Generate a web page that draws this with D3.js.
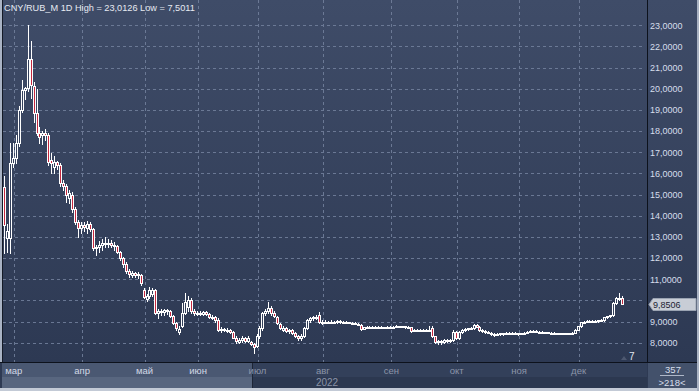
<!DOCTYPE html>
<html><head><meta charset="utf-8">
<script src="https://cdn.jsdelivr.net/npm/d3@7"></script>
<style>html,body{margin:0;padding:0;background:#2e3a54;overflow:hidden}svg{display:block}</style>
</head><body><svg id="c" width="699" height="391"></svg>
<script>
const title = "CNY/RUB_M 1D High = 23,0126 Low = 7,5011";
const opens = [15.37,12.93,12.93,16.49,16.73,17.45,19.0,19.94,20.04,21.39,20.13,18.87,17.9,17.8,17.9,17.82,16.63,16.3,16.55,16.39,
15.53,15.4,14.82,15.0,14.3,13.72,13.41,13.55,13.4,13.6,13.35,12.46,12.5,12.62,12.7,12.65,12.7,12.6,12.55,12.3,
12.0,11.7,11.4,11.2,11.3,11.2,11.2,10.5,10.06,10.2,10.3,10.49,9.4,9.5,9.45,9.55,9.5,9.25,8.93,8.5,
8.8,9.4,9.7,10.0,9.5,9.35,9.42,9.35,9.45,9.35,9.2,9.22,9.05,8.6,8.65,8.6,8.62,8.5,8.22,8.05,
8.15,8.2,8.1,8.05,7.95,7.85,8.3,8.7,9.4,9.5,9.64,9.4,9.2,8.9,8.6,8.7,8.55,8.6,8.45,8.3,
8.22,8.3,8.7,9.05,9.15,9.2,9.3,9.0,8.98,9.0,8.97,9.0,8.98,9.02,8.98,8.99,8.96,8.95,8.93,8.9,
8.84,8.66,8.72,8.74,8.72,8.75,8.73,8.74,8.72,8.73,8.74,8.73,8.75,8.78,8.76,8.77,8.75,8.74,8.55,8.6,
8.58,8.6,8.59,8.61,8.7,8.3,8.05,8.1,8.05,8.13,8.08,8.13,8.52,8.22,8.52,8.6,8.65,8.68,8.7,8.85,
8.75,8.6,8.55,8.52,8.48,8.42,8.38,8.4,8.44,8.42,8.45,8.44,8.46,8.44,8.42,8.44,8.48,8.52,8.57,8.55,
8.52,8.5,8.48,8.49,8.47,8.46,8.45,8.44,8.45,8.43,8.44,8.42,8.46,8.6,8.78,8.98,9.0,9.02,9.0,9.03,
9.02,9.05,9.06,9.2,9.25,9.3,9.88,10.05,10.13];
const highs = [15.88,13.6,17.44,17.44,17.8,19.2,20.41,20.1,23.01,22.27,20.3,19.99,18.2,18.0,18.1,17.9,16.97,16.8,16.6,16.5,
15.7,15.5,15.2,15.1,14.4,13.8,13.7,13.7,13.75,13.7,13.4,12.6,12.8,12.9,12.99,12.9,12.85,12.75,12.6,12.35,
12.05,11.8,11.5,11.4,11.35,11.35,11.25,10.6,10.3,10.63,10.6,10.55,9.6,9.6,9.6,9.6,9.55,9.3,9.0,8.8,
9.88,10.36,10.2,10.1,9.6,9.5,9.5,9.5,9.5,9.4,9.3,9.25,9.16,8.75,8.7,8.7,8.65,8.55,8.3,8.2,
8.3,8.25,8.3,8.1,8.0,8.4,8.8,9.45,9.6,9.9,9.75,9.5,9.25,8.95,8.8,8.72,8.65,8.65,8.5,8.35,
8.4,8.75,9.1,9.2,9.25,9.3,9.45,9.05,9.05,9.04,9.05,9.03,9.06,9.05,9.03,9.02,9.0,8.99,8.97,8.93,
8.88,8.76,8.78,8.77,8.79,8.78,8.78,8.77,8.76,8.78,8.77,8.79,8.83,8.81,8.8,8.8,8.78,8.76,8.64,8.63,
8.64,8.63,8.65,8.78,8.78,8.33,8.15,8.14,8.18,8.16,8.16,8.6,8.55,8.56,8.64,8.68,8.71,8.74,8.9,8.88,
8.78,8.63,8.6,8.56,8.5,8.46,8.44,8.48,8.47,8.49,8.49,8.5,8.49,8.47,8.48,8.51,8.55,8.61,8.6,8.58,
8.55,8.53,8.52,8.52,8.5,8.49,8.48,8.48,8.47,8.47,8.46,8.49,8.63,8.8,9.0,9.04,9.05,9.05,9.06,9.06,
9.08,9.1,9.22,9.28,9.33,9.9,10.15,10.35,10.2];
const lows = [12.24,12.3,12.24,16.3,16.5,17.3,18.9,19.5,19.9,19.56,18.44,17.8,17.44,17.4,17.6,16.4,16.02,16.0,16.2,15.4,
15.2,14.66,14.6,14.2,13.6,13.01,13.2,13.3,13.2,13.3,12.4,12.14,12.3,12.4,12.5,12.5,12.5,12.4,12.25,11.9,
11.6,11.3,11.1,11.1,11.1,11.05,10.75,10.1,9.95,10.1,10.2,9.35,9.15,9.3,9.3,9.35,9.2,8.9,8.6,8.4,
8.75,9.35,9.5,9.4,9.3,9.3,9.3,9.3,9.3,9.15,9.1,9.0,8.55,8.5,8.55,8.5,8.45,8.2,8.0,8.0,
8.05,8.05,8.05,7.9,7.51,7.8,8.2,8.6,9.3,9.4,9.3,9.2,8.9,8.65,8.55,8.5,8.45,8.4,8.25,8.15,
8.15,8.25,8.65,9.0,9.05,9.1,8.95,8.9,8.92,8.93,8.93,8.94,8.95,8.94,8.93,8.92,8.91,8.9,8.87,8.82,
8.62,8.63,8.68,8.68,8.69,8.69,8.7,8.68,8.69,8.7,8.69,8.7,8.72,8.72,8.72,8.71,8.7,8.52,8.53,8.54,
8.55,8.55,8.56,8.57,8.28,8.0,7.95,7.93,8.0,8.02,8.03,8.1,8.18,8.18,8.48,8.56,8.6,8.63,8.67,8.72,
8.57,8.5,8.48,8.44,8.38,8.34,8.35,8.37,8.38,8.39,8.4,8.41,8.4,8.38,8.39,8.41,8.45,8.5,8.51,8.49,
8.47,8.45,8.45,8.44,8.43,8.42,8.41,8.41,8.4,8.4,8.39,8.4,8.44,8.58,8.76,8.95,8.96,8.96,8.97,8.98,
9.0,9.02,9.04,9.17,9.22,9.28,9.85,10.0,9.82];
const closes = [13.56,13.3,16.49,16.73,17.45,19.0,19.94,20.04,21.39,20.18,18.87,17.9,17.74,17.9,17.82,16.55,16.47,16.55,16.39,15.53,
15.4,14.98,15.07,14.3,13.72,13.41,13.55,13.45,13.6,13.35,12.46,12.5,12.62,12.7,12.65,12.7,12.6,12.55,12.3,12.0,
11.7,11.4,11.25,11.3,11.2,11.25,10.82,10.17,10.2,10.49,10.49,9.4,9.5,9.45,9.55,9.5,9.25,8.93,8.7,8.65,
9.4,9.9,10.0,9.5,9.4,9.42,9.4,9.45,9.35,9.2,9.22,9.05,8.6,8.65,8.6,8.62,8.5,8.22,8.1,8.15,
8.2,8.1,8.22,7.95,7.81,8.3,8.7,9.4,9.5,9.64,9.4,9.25,8.95,8.7,8.7,8.55,8.6,8.45,8.3,8.22,
8.3,8.7,9.05,9.15,9.2,9.15,9.0,8.98,9.0,8.97,9.0,8.98,9.02,8.98,8.99,8.96,8.95,8.93,8.9,8.85,
8.66,8.72,8.74,8.72,8.75,8.73,8.74,8.72,8.73,8.74,8.73,8.75,8.78,8.76,8.77,8.75,8.74,8.55,8.6,8.58,
8.6,8.59,8.61,8.6,8.3,8.05,8.1,8.05,8.13,8.08,8.12,8.52,8.22,8.52,8.6,8.65,8.68,8.7,8.85,8.75,
8.6,8.55,8.52,8.48,8.42,8.38,8.4,8.44,8.42,8.45,8.44,8.46,8.44,8.42,8.44,8.48,8.52,8.57,8.55,8.52,
8.5,8.48,8.49,8.47,8.46,8.45,8.44,8.45,8.43,8.44,8.42,8.46,8.6,8.78,8.98,9.0,9.02,9.0,9.03,9.02,
9.05,9.06,9.2,9.25,9.3,9.88,10.1,10.13,9.85];
const monthLabels = ["мар","апр","май","июн","июл","авг","сен","окт","ноя","дек"];
const monthStartIndex = [3,26,47,65,85,107,130,152,173,193];
const yTicks = [8,9,10,11,12,13,14,15,16,17,18,19,20,21,22,23];
const lastPrice = 9.8506;
const yearLabel = "2022";
const barTotal = "357", barVisible = ">218<", markerText = "7";

const svg = d3.select("#c");
const W = 699, H = 391;
const plot = {l: 3, r: 647, t: 0, b: 362};
const n = closes.length;
const x = d3.scaleLinear().domain([0, n - 1]).range([4.8, 623.2]);
const y = d3.scaleLinear().domain([8, 23]).range([342.7, 25.3]);
const fmt = v => d3.format(".4f")(v).replace(".", ",");
const FONT = "'Liberation Sans', Arial, sans-serif";

const defs = svg.append("defs");
const g1 = defs.append("linearGradient").attr("id", "bg").attr("x1", 0).attr("y1", 0).attr("x2", 0).attr("y2", 1);
g1.append("stop").attr("offset", "0%").attr("stop-color", "#3f4c68");
g1.append("stop").attr("offset", "100%").attr("stop-color", "#2d3953");
defs.append("clipPath").attr("id", "clip").append("rect")
  .attr("x", plot.l).attr("y", plot.t).attr("width", plot.r - plot.l).attr("height", plot.b - plot.t);

svg.append("rect").attr("width", W).attr("height", H).attr("fill", "#2e3a54");
svg.append("rect").attr("x", plot.l).attr("y", 0).attr("width", plot.r - plot.l).attr("height", plot.b).attr("fill", "url(#bg)");
svg.append("rect").attr("x", plot.r).attr("y", 0).attr("width", W - plot.r).attr("height", plot.b).attr("fill", "url(#bg)");

// grid
const grid = svg.append("g").attr("clip-path", "url(#clip)").attr("stroke", "#74829e").attr("stroke-width", 1)
  .attr("stroke-dasharray", "3,3").attr("shape-rendering", "crispEdges").attr("opacity", 0.85);
grid.selectAll("line.h").data(yTicks).join("line").attr("class", "h")
  .attr("x1", plot.l).attr("x2", plot.r - 2)
  .attr("y1", d => Math.round(y(d)) + 0.5).attr("y2", d => Math.round(y(d)) + 0.5);
grid.selectAll("line.v").data(monthStartIndex).join("line").attr("class", "v")
  .attr("y1", 0).attr("y2", plot.b)
  .attr("x1", d => Math.round(x(d)) + 0.5).attr("x2", d => Math.round(x(d)) + 0.5);

// candles
const idx = d3.range(n);
const cg = svg.append("g").attr("clip-path", "url(#clip)").attr("shape-rendering", "crispEdges");
cg.selectAll("line.w").data(idx).join("line").attr("class", "w")
  .attr("x1", i => Math.round(x(i)) - 0.5).attr("x2", i => Math.round(x(i)) - 0.5)
  .attr("y1", i => Math.round(y(highs[i]))).attr("y2", i => Math.round(y(lows[i])) + 1)
  .attr("stroke", "#ffffff").attr("stroke-width", 1);
cg.selectAll("rect.b").data(idx).join("rect").attr("class", "b")
  .attr("x", i => Math.round(x(i)) - 1.5).attr("width", 2)
  .attr("y", i => Math.round(y(Math.max(opens[i], closes[i]))) + 0.5)
  .attr("height", i => Math.max(1, Math.round(y(Math.min(opens[i], closes[i]))) - Math.round(y(Math.max(opens[i], closes[i])))))
  .attr("fill", i => closes[i] < opens[i] ? "#c4283f" : "#34415c")
  .attr("stroke", "#ffffff").attr("stroke-width", 1);

// borders
svg.append("rect").attr("x", 0).attr("y", 0).attr("width", 2).attr("height", H).attr("fill", "#a9b3c4");
svg.append("line").attr("x1", 2.5).attr("x2", 2.5).attr("y1", 0).attr("y2", plot.b).attr("stroke", "#141a26");
svg.append("line").attr("x1", plot.r + 0.5).attr("x2", plot.r + 0.5).attr("y1", 0).attr("y2", H).attr("stroke", "#0d121c");

// title
svg.append("text").attr("x", 4).attr("y", 11).attr("fill", "#e6eaf2").attr("font-family", FONT)
  .attr("font-size", 9.2).text(title);

// y labels (the one hidden behind the last-price box is not drawn)
const ly = Math.round(y(lastPrice));
svg.append("g").selectAll("text").data(yTicks.filter(d => Math.abs(y(d) - ly) > 10)).join("text")
  .attr("x", 650).attr("y", d => y(d) + 3.3).attr("fill", "#d6deec").attr("font-family", FONT).attr("font-size", 9)
  .text(d => fmt(d));

// last price box
svg.append("path")
  .attr("d", `M${plot.r + 2},${ly + 0.5} L${plot.r + 6},${ly - 5.5} L${W - 3},${ly - 5.5} L${W - 3},${ly + 6.5} L${plot.r + 6},${ly + 6.5} Z`)
  .attr("fill", "#c8cdd6").attr("stroke", "#9aa3b2");
svg.append("text").attr("x", 653).attr("y", ly + 4).attr("fill", "#1c2333").attr("font-family", FONT).attr("font-size", 9)
  .text(fmt(lastPrice));

// time axis
const split = 252;
svg.append("rect").attr("x", 0).attr("y", plot.b).attr("width", W).attr("height", H - plot.b).attr("fill", "#2e3a53");
svg.append("rect").attr("x", 2).attr("y", 363).attr("width", split - 2).attr("height", 14).attr("fill", "#4a5872");
svg.append("rect").attr("x", 2).attr("y", 377).attr("width", split - 2).attr("height", 11).attr("fill", "#58667f");
svg.append("rect").attr("x", split).attr("y", 363).attr("width", plot.r - split).attr("height", 14).attr("fill", "#33405a");
svg.append("rect").attr("x", split).attr("y", 377).attr("width", plot.r - split).attr("height", 11).attr("fill", "#2c3850");
svg.append("line").attr("x1", split + 0.5).attr("x2", split + 0.5).attr("y1", 363).attr("y2", 388).attr("stroke", "#1d2536");
svg.append("line").attr("x1", 0).attr("x2", W).attr("y1", plot.b + 0.5).attr("y2", plot.b + 0.5).attr("stroke", "#0d121c");
svg.append("rect").attr("x", 0).attr("y", 388).attr("width", W).attr("height", 3).attr("fill", "#c3cad6");
svg.append("rect").attr("x", W - 2).attr("y", 0).attr("width", 2).attr("height", H).attr("fill", "#aab3c3");

svg.append("g").selectAll("text").data(monthStartIndex).join("text")
  .attr("x", d => x(d)).attr("y", 374).attr("text-anchor", "middle")
  .attr("fill", d => x(d) < split ? "#d2d9e6" : "#8c95a9")
  .attr("font-family", FONT).attr("font-size", 9.5)
  .text((d, i) => monthLabels[i]);
svg.append("text").attr("x", 327).attr("y", 386).attr("text-anchor", "middle").attr("fill", "#8a93a7")
  .attr("font-family", FONT).attr("font-size", 10).text(yearLabel);

// bottom-right box
svg.append("rect").attr("x", plot.r + 1).attr("y", 363).attr("width", W - plot.r - 3).attr("height", 25).attr("fill", "#43516b");
svg.append("text").attr("x", 673).attr("y", 373).attr("text-anchor", "middle").attr("fill", "#d6deec")
  .attr("font-family", FONT).attr("font-size", 9.5).text(barTotal);
svg.append("line").attr("x1", 660).attr("x2", 684).attr("y1", 375.5).attr("y2", 375.5).attr("stroke", "#aeb7c8");
svg.append("text").attr("x", 672).attr("y", 385.5).attr("text-anchor", "middle").attr("fill", "#d6deec")
  .attr("font-family", FONT).attr("font-size", 9.5).text(barVisible);

// marker
svg.append("path").attr("d", "M621,360 L624,356 L627,360 Z").attr("fill", "#4d5870");
svg.append("text").attr("x", 629).attr("y", 360).attr("fill", "#e2e7f0").attr("font-family", FONT)
  .attr("font-size", 10).text(markerText);
</script></body></html>
